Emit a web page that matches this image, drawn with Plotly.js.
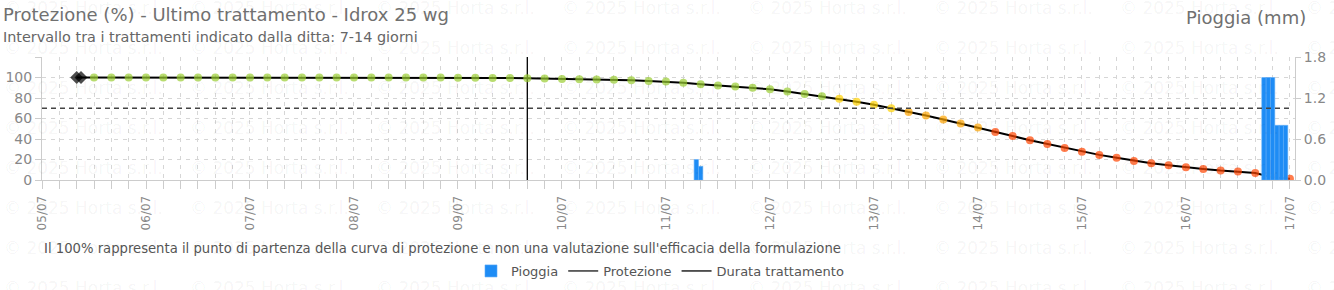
<!DOCTYPE html>
<html>
<head>
<meta charset="utf-8">
<script src="https://cdn.plot.ly/plotly-3.0.1.min.js"></script>
<style>html,body{margin:0;padding:0;background:#fff;}#chart{width:1334px;height:290px;}</style>
</head>
<body>
<div id="chart"></div>
<script>
// ---- data ----
const startMarkerTimes = ['2025-07-05 08:00', '2025-07-05 09:00'];
const startMarkerValues = [100, 100];

const protectionTimes = [
  '2025-07-05 12:00','2025-07-05 16:00','2025-07-05 20:00',
  '2025-07-06 00:00','2025-07-06 04:00','2025-07-06 08:00','2025-07-06 12:00','2025-07-06 16:00','2025-07-06 20:00',
  '2025-07-07 00:00','2025-07-07 04:00','2025-07-07 08:00','2025-07-07 12:00','2025-07-07 16:00','2025-07-07 20:00',
  '2025-07-08 00:00','2025-07-08 04:00','2025-07-08 08:00','2025-07-08 12:00','2025-07-08 16:00','2025-07-08 20:00',
  '2025-07-09 00:00','2025-07-09 04:00','2025-07-09 08:00','2025-07-09 12:00','2025-07-09 16:00','2025-07-09 20:00',
  '2025-07-10 00:00','2025-07-10 04:00','2025-07-10 08:00','2025-07-10 12:00','2025-07-10 16:00','2025-07-10 20:00',
  '2025-07-11 00:00','2025-07-11 04:00','2025-07-11 08:00','2025-07-11 12:00','2025-07-11 16:00','2025-07-11 20:00',
  '2025-07-12 00:00','2025-07-12 04:00','2025-07-12 08:00','2025-07-12 12:00','2025-07-12 16:00','2025-07-12 20:00',
  '2025-07-13 00:00','2025-07-13 04:00','2025-07-13 08:00','2025-07-13 12:00','2025-07-13 16:00','2025-07-13 20:00',
  '2025-07-14 00:00','2025-07-14 04:00','2025-07-14 08:00','2025-07-14 12:00','2025-07-14 16:00','2025-07-14 20:00',
  '2025-07-15 00:00','2025-07-15 04:00','2025-07-15 08:00','2025-07-15 12:00','2025-07-15 16:00','2025-07-15 20:00',
  '2025-07-16 00:00','2025-07-16 04:00','2025-07-16 08:00','2025-07-16 12:00','2025-07-16 16:00','2025-07-16 20:00',
  '2025-07-17 00:00'
];
const protectionValues = [
  100, 100, 100,
  100, 100, 100, 100, 100, 100,
  100, 100, 100, 100, 100, 100,
  100, 100, 100, 100, 99.9, 99.9,
  99.8, 99.7, 99.6, 99.4, 99.2, 99.0,
  98.6, 98.3, 98.0, 97.7, 97.3, 96.7,
  96.0, 95.0, 93.4, 92.1, 91.1, 90.1,
  88.5, 86.3, 83.9, 81.6, 79.3, 76.3,
  73.4, 70.1, 66.4, 62.9, 59.0, 55.1,
  51.1, 46.9, 42.9, 38.7, 35.1, 31.1,
  27.5, 24.5, 21.6, 18.6, 16.3, 14.4,
  12.4, 10.8, 9.2, 8.2, 6.9, 2.6,
  1.3
];

const rainTimes = [
  '2025-07-11 07:00','2025-07-11 08:00',
  '2025-07-16 18:00','2025-07-16 19:00','2025-07-16 20:00',
  '2025-07-16 21:00','2025-07-16 22:00','2025-07-16 23:00'
];
const rainValues = [0.3, 0.2, 1.5, 1.5, 1.5, 0.8, 0.8, 0.8];

const treatmentEndTime = '2025-07-09 16:00';
const treatmentLineY = [0, 120];
const thresholdValue = 70;

const leftTickValues = [0, 20, 40, 60, 80, 100, 120];
const leftTickLabels = ['0', '20', '40', '60', '80', '100', ''];
const rightTickValues = [0, 0.6, 1.2, 1.8];
const rightTickLabels = ['0.0', '0.6', '1.2', '1.8'];

const titleText = 'Protezione (%) - Ultimo trattamento - Idrox 25 wg';
const subtitleText = 'Intervallo tra i trattamenti indicato dalla ditta: 7-14 giorni';
const rightTitleText = 'Pioggia (mm)';
const noteText = "Il 100% rappresenta il punto di partenza della curva di protezione e non una valutazione sull'efficacia della formulazione";
const watermarkText = '© 2025 Horta s.r.l.';

// ---- styling ----
function colorFor(v) {
  if (v >= 80) return '#9acd32';
  if (v >= 70) return '#ffd200';
  if (v >= 50) return '#ffa500';
  return '#ff4500';
}
const FONT = 'DejaVu Sans, Verdana, sans-serif';
const W = 1334, H = 290;
const M = {l: 42, r: 39, t: 57, b: 110, autoexpand: false};
const pw = W - M.l - M.r, ph = H - M.t - M.b;
const px2x = p => (p - M.l) / pw;
const py2y = p => (H - M.b - p) / ph;

const allX = startMarkerTimes.concat(protectionTimes);
const allY = startMarkerValues.concat(protectionValues);
const markerColors = startMarkerValues.map(() => '#000').concat(protectionValues.map(colorFor));
const markerSymbols = startMarkerValues.map(() => 'diamond').concat(protectionValues.map(() => 'circle'));
const markerSizes = startMarkerValues.map(() => 10).concat(protectionValues.map(() => 8));

const traces = [
  {
    type: 'bar', name: 'Pioggia', x: rainTimes, y: rainValues, yaxis: 'y2',
    width: 3600000,
    marker: {color: '#1e8cf5', line: {color: '#5aaaf7', width: 0.6}},
    hoverinfo: 'x+y'
  },
  {
    type: 'scatter', mode: 'lines', name: 'Protezione', x: [null], y: [null],
    line: {color: '#000', width: 1.2}
  },
  {
    type: 'scatter', mode: 'lines', name: 'Durata trattamento',
    x: [treatmentEndTime, treatmentEndTime], y: treatmentLineY,
    line: {color: '#000', width: 1.3}
  },
  {
    type: 'scatter', mode: 'lines+markers', name: 'Protezione', showlegend: false,
    x: allX, y: allY,
    line: {color: '#000', width: 2},
    marker: {color: markerColors, symbol: markerSymbols, size: markerSizes, line: {width: 0}}
  }
];

const annotations = [];
// watermark tiles
const wmRows = [8, 48, 88, 128, 168, 208, 248, 288];
wmRows.forEach((ry, i) => {
  for (let cx = 2; cx < W; cx += 186) {
    annotations.push({text: watermarkText, x: px2x(cx), y: py2y(ry), xref: 'paper', yref: 'paper', xanchor: 'left', yanchor: 'middle', showarrow: false, font: {family: FONT, size: 17, color: 'rgba(0,0,0,0.05)'}});
  }
});
annotations.push(
  {text: titleText, x: px2x(1), y: py2y(15), xref: 'paper', yref: 'paper', xanchor: 'left', yanchor: 'middle', showarrow: false, font: {family: FONT, size: 18, color: '#707070'}},
  {text: subtitleText, x: px2x(1), y: py2y(37), xref: 'paper', yref: 'paper', xanchor: 'left', yanchor: 'middle', showarrow: false, font: {family: FONT, size: 14.4, color: '#666'}},
  {text: rightTitleText, x: px2x(1308), y: py2y(17), xref: 'paper', yref: 'paper', xanchor: 'right', yanchor: 'middle', showarrow: false, font: {family: FONT, size: 18, color: '#707070'}},
  {text: noteText, x: px2x(42), y: py2y(248), xref: 'paper', yref: 'paper', xanchor: 'left', yanchor: 'middle', showarrow: false, font: {family: FONT, size: 13.2, color: '#555'}}
);

const gridStyle = {gridcolor: '#d6d6d6', griddash: '4px,5px', gridwidth: 1};

const layout = {
  width: W, height: H,
  margin: M,
  paper_bgcolor: '#fff', plot_bgcolor: '#fff',
  font: {family: FONT, size: 13, color: '#555'},
  showlegend: true,
  legend: {orientation: 'h', x: px2x(660), xanchor: 'center', y: py2y(271), yanchor: 'middle', font: {family: FONT, size: 13, color: '#555'}, traceorder: 'normal', itemwidth: 30},
  bargap: 0,
  xaxis: {
    type: 'date', range: ['2025-07-05 00:00', '2025-07-17 01:10'],
    tick0: '2025-07-05', dtick: 86400000, tickformat: '%d/%m', tickangle: -90,
    ticks: 'outside', ticklen: 8, tickcolor: '#ccc', ticklabelstandoff: 2,
    tickfont: {family: FONT, size: 12, color: '#888'},
    showline: true, linecolor: '#ccc', linewidth: 1,
    showgrid: true, ...gridStyle, zeroline: false,
    minor: {dtick: 4 * 3600000, ticks: 'outside', ticklen: 8, tickcolor: '#ccc', showgrid: true, ...gridStyle}
  },
  yaxis: {
    range: [0, 120], tickvals: leftTickValues, ticktext: leftTickLabels,
    ticks: 'outside', ticklen: 6, tickcolor: '#ccc',
    tickfont: {family: FONT, size: 14, color: '#888'},
    showline: true, linecolor: '#ccc', linewidth: 1,
    showgrid: true, ...gridStyle, zeroline: false
  },
  yaxis2: {
    overlaying: 'y', side: 'right', range: [0, 1.8],
    tickvals: rightTickValues, ticktext: rightTickLabels,
    ticks: 'outside', ticklen: 5, tickcolor: '#ccc',
    tickfont: {family: FONT, size: 14, color: '#888'},
    showline: true, linecolor: '#ccc', linewidth: 1,
    showgrid: false, zeroline: false
  },
  shapes: [
    {type: 'line', xref: 'x', yref: 'y', x0: '2025-07-05 00:00', x1: '2025-07-17 00:00', y0: thresholdValue, y1: thresholdValue, line: {color: '#444', width: 1.5, dash: '5px,4px'}}
  ],
  annotations: annotations
};

Plotly.newPlot('chart', traces, layout, {displayModeBar: false, staticPlot: true});
</script>
</body>
</html>
